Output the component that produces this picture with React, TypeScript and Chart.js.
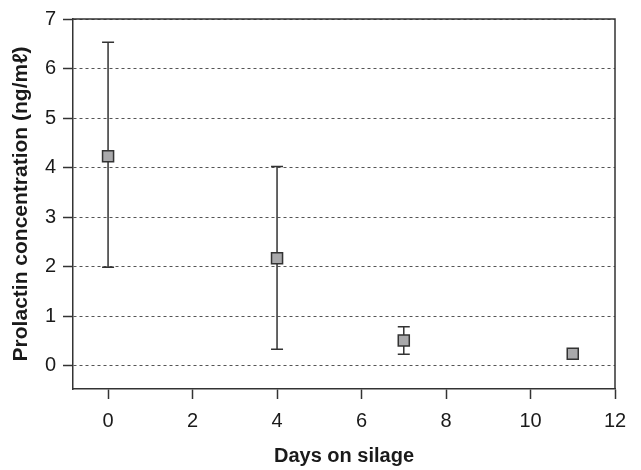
import React, { useEffect, useRef } from "react";
import { Chart, registerables } from "chart.js";

Chart.register(...registerables);

const days = [0, 4, 7, 11];
const prolactin = [4.23, 2.17, 0.51, 0.24];
const errLower: (number | null)[] = [1.99, 0.33, 0.23, null];
const errUpper: (number | null)[] = [6.53, 4.02, 0.785, null];
const xTicks = [0, 2, 4, 6, 8, 10, 12];
const yTicks = [0, 1, 2, 3, 4, 5, 6, 7];
const xTitle = "Days on silage";
const yTitle = "Prolactin concentration (ng/m\u2113)";

const FONT = "'Liberation Sans', Arial, Helvetica, sans-serif";
const LINE = "#333333";

const errorBarPlugin = {
  id: "errorBars",
  beforeDatasetsDraw(chart: any) {
    const ctx = chart.ctx;
    const xs = chart.scales.x;
    const ys = chart.scales.y;
    ctx.save();
    ctx.strokeStyle = LINE;
    ctx.lineWidth = 1.5;
    for (let i = 0; i < days.length; i++) {
      const lo = errLower[i];
      const hi = errUpper[i];
      if (lo == null || hi == null) continue;
      const x = xs.getPixelForValue(days[i]);
      const y1 = ys.getPixelForValue(lo);
      const y2 = ys.getPixelForValue(hi);
      ctx.beginPath();
      ctx.moveTo(x, y1);
      ctx.lineTo(x, y2);
      ctx.moveTo(x - 6, y1);
      ctx.lineTo(x + 6, y1);
      ctx.moveTo(x - 6, y2);
      ctx.lineTo(x + 6, y2);
      ctx.stroke();
    }
    ctx.restore();
  },
  afterDraw(chart: any) {
    const { ctx, chartArea } = chart;
    ctx.save();
    ctx.strokeStyle = LINE;
    ctx.lineWidth = 1.5;
    ctx.beginPath();
    ctx.moveTo(chartArea.left, chartArea.top);
    ctx.lineTo(chartArea.right, chartArea.top);
    ctx.lineTo(chartArea.right, chartArea.bottom);
    ctx.stroke();
    ctx.restore();
  },
};

export default function App() {
  const ref = useRef<HTMLCanvasElement | null>(null);
  useEffect(() => {
    if (!ref.current) return;
    const chart = new Chart(ref.current, {
      type: "scatter",
      data: {
        datasets: [
          {
            data: days.map((d, i) => ({ x: d, y: prolactin[i] })),
            pointStyle: "rect",
            pointRadius: 7.8,
            pointHoverRadius: 7.8,
            backgroundColor: "#a9a9ab",
            borderColor: LINE,
            borderWidth: 1.5,
            showLine: false,
          },
        ],
      },
      options: {
        responsive: false,
        animation: false,
        devicePixelRatio: 1,
        layout: { padding: { top: 14, right: 26, left: 0, bottom: 0 } },
        plugins: { legend: { display: false }, tooltip: { enabled: false } },
        scales: {
          x: {
            type: "linear",
            min: -0.83,
            max: 12,
            afterBuildTicks: (s: any) => {
              s.ticks = xTicks.map((v) => ({ value: v }));
            },
            afterFit: (s: any) => {
              s.height = 81;
            },
            grid: {
              drawOnChartArea: false,
              drawTicks: true,
              tickLength: 10,
              tickColor: LINE,
              tickWidth: 1.5,
            },
            border: { display: true, color: LINE, width: 1.5 },
            ticks: {
              color: "#1a1a1a",
              font: { family: FONT, size: 20 },
              padding: 10,
              maxRotation: 0,
              autoSkip: false,
            },
            title: {
              display: true,
              text: xTitle,
              color: "#1a1a1a",
              font: { family: FONT, size: 20, weight: "bold" },
              padding: { top: 0, bottom: 2 },
            },
          },
          y: {
            type: "linear",
            min: -0.47,
            max: 7,
            afterBuildTicks: (s: any) => {
              s.ticks = yTicks.map((v) => ({ value: v }));
            },
            afterFit: (s: any) => {
              s.width = 73;
            },
            grid: {
              drawOnChartArea: true,
              drawTicks: true,
              tickLength: 10,
              color: "#555555",
              lineWidth: 1,
              tickColor: LINE,
              tickWidth: 1.5,
              tickBorderDash: [],
            } as any,
            border: { display: true, color: LINE, width: 1.5, dash: [3, 3] } as any,
            ticks: {
              color: "#1a1a1a",
              font: { family: FONT, size: 20 },
              padding: 7,
              autoSkip: false,
            },
            title: {
              display: true,
              text: yTitle,
              color: "#1a1a1a",
              font: { family: FONT, size: 21, weight: "bold" },
              padding: { top: 9, bottom: 0 },
            },
          },
        },
      },
      plugins: [errorBarPlugin],
    });
    return () => chart.destroy();
  }, []);
  return (
    <div style={{ position: "fixed", left: 0, top: 0, width: 641, height: 470, background: "#fff" }}>
      <canvas ref={ref} width={641} height={470} />
    </div>
  );
}
